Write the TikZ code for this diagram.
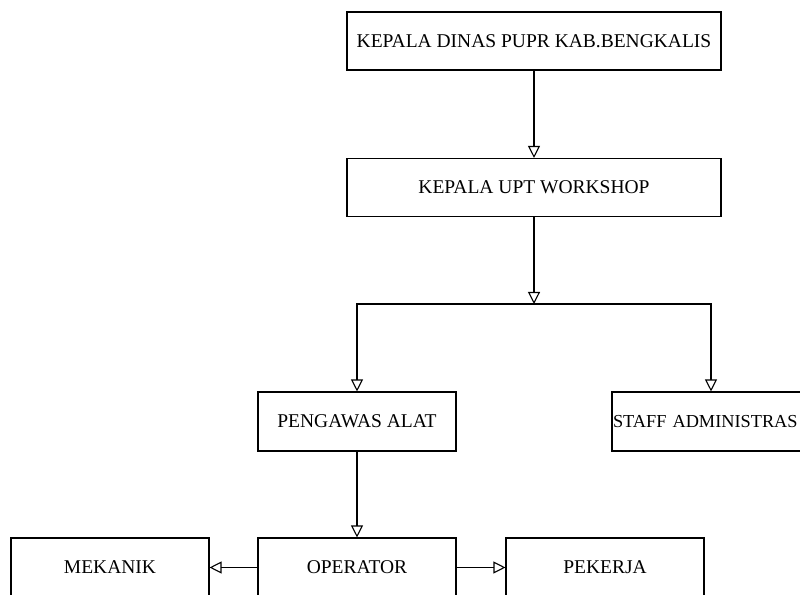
\documentclass[tikz,border=0pt]{standalone}
\usepackage{fontspec}
\setmainfont{Liberation Serif}
\usetikzlibrary{arrows.meta}

\begin{document}
\begin{tikzpicture}[x=1pt, y=1pt, line width=1.1pt,
    box/.style={draw, minimum width=198pt, minimum height=59pt, inner sep=1pt, font=\fontsize{19.5}{22}\selectfont},
    wide/.style={box, minimum width=374pt, minimum height=58pt},
    arr/.style={-{Triangle[open, length=12pt, width=12pt]}}]
\useasboundingbox (0,0) rectangle (800,594);
\node[wide] (kadis) at (534,553) {KEPALA DINAS PUPR KAB.BENGKALIS};
\node[wide] (upt) at (534,406.5) {KEPALA UPT WORKSHOP};
\node[box] (pengawas) at (357,172.5) {PENGAWAS ALAT};
\node[box, text width=196pt, align=left, font=\fontsize{18.3}{22}\selectfont] (staff) at (711,172.5) {STAFF ADMINISTRAS};
\node[box] (operator) at (357,26.5) {OPERATOR};
\node[box] (mekanik) at (110,26.5) {MEKANIK};
\node[box] (pekerja) at (605,26.5) {PEKERJA};
\coordinate (cabang) at (534,290);
\draw[arr] (kadis) -- (upt);
\draw[arr] (upt) -- (cabang);
\draw[arr] (cabang) -| (pengawas);
\draw[arr] (cabang) -| (staff);
\draw[arr] (pengawas) -- (operator);
\draw[arr] (operator) -- (mekanik);
\draw[arr] (operator) -- (pekerja);
\end{tikzpicture}
\end{document}
